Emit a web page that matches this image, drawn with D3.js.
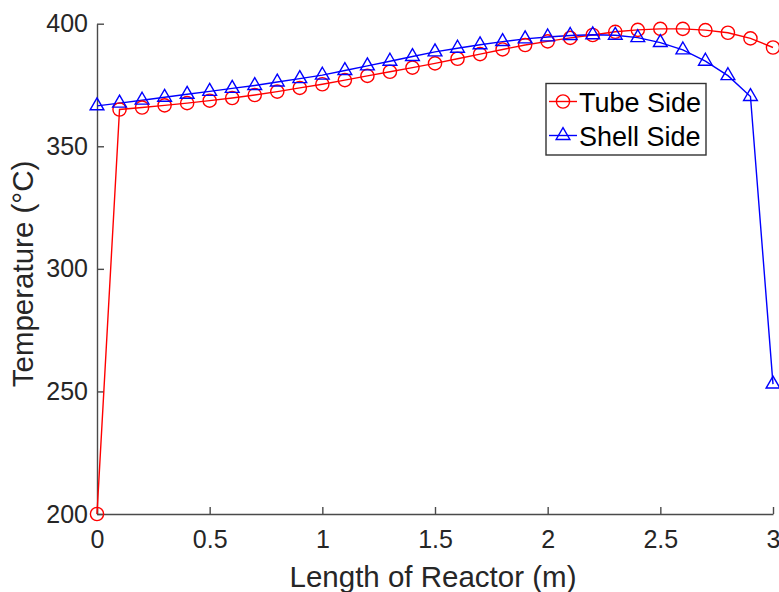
<!DOCTYPE html>
<html>
<head>
<meta charset="utf-8">
<script src="https://cdn.jsdelivr.net/npm/d3@7"></script>
<style>
  body { margin: 0; background: #fff; }
  svg { font-family: "Liberation Sans", Arial, sans-serif; }
</style>
</head>
<body>
<svg width="779" height="592"></svg>
<script>
// reactor length positions (m)
const lengths = [0, 0.1, 0.2, 0.3, 0.4, 0.5, 0.6, 0.7, 0.8, 0.9, 1.0,
  1.1, 1.2, 1.3, 1.4, 1.5, 1.6, 1.7, 1.8, 1.9, 2.0,
  2.1, 2.2, 2.3, 2.4, 2.5, 2.6, 2.7, 2.8, 2.9, 3.0];

// tube side temperature (C)
const tubeSide = [200, 365, 365.8, 366.7, 367.6, 368.6, 369.7, 370.9, 372.3, 373.8, 375.3,
  377, 378.7, 380.4, 382.1, 383.8, 385.7, 387.6, 389.5, 391.3, 392.8,
  394.2, 395.4, 396.7, 397.5, 397.9, 397.9, 397.4, 396.3, 394, 390.3];

// shell side temperature (C)
const shellSide = [366.5, 367.6, 368.8, 370, 371.2, 372.4, 373.6, 374.8, 376.2, 377.6, 379,
  380.9, 382.8, 384.7, 386.6, 388.5, 390, 391.4, 392.7, 393.8, 394.6,
  395.2, 395.5, 395.3, 394.3, 392.3, 389.3, 384.7, 378.8, 370.3, 253];

const xTicks = [0, 0.5, 1, 1.5, 2, 2.5, 3];
const yTicks = [200, 250, 300, 350, 400];
const seriesNames = ['Tube Side', 'Shell Side'];

const svg = d3.select('svg');
const plotLeft = 97, plotRight = 773, plotTop = 23.7, plotBottom = 514;

const x = d3.scaleLinear().domain([0, 3]).range([plotLeft, plotRight]);
const y = d3.scaleLinear().domain([200, 400]).range([plotBottom, plotTop]);

const axisColor = '#4a4a4a';

// axes (MATLAB style, ticks pointing in)
const gx = svg.append('g')
  .attr('transform', 'translate(0,' + plotBottom + ')')
  .call(d3.axisBottom(x).tickValues(xTicks).tickFormat(d3.format('')).tickSizeInner(-7).tickSizeOuter(0).tickPadding(16));

const gy = svg.append('g')
  .attr('transform', 'translate(' + plotLeft + ',0)')
  .call(d3.axisLeft(y).tickValues(yTicks).tickSizeInner(-7).tickSizeOuter(0).tickPadding(9));

[gx, gy].forEach(g => {
  g.select('.domain').attr('stroke', axisColor).attr('stroke-width', 1.4);
  g.selectAll('.tick line').attr('stroke', axisColor).attr('stroke-width', 1.4);
  g.selectAll('.tick text').attr('fill', '#262626').style('font-size', '25px')
    .style('font-family', '"Liberation Sans", Arial, sans-serif');
});

// axis labels
svg.append('text')
  .attr('x', 433).attr('y', 587)
  .attr('text-anchor', 'middle')
  .attr('fill', '#262626')
  .style('font-size', '29.5px')
  .text('Length of Reactor (m)');

svg.append('text')
  .attr('transform', 'translate(33,274) rotate(-90)')
  .attr('text-anchor', 'middle')
  .attr('fill', '#262626')
  .style('font-size', '29.5px')
  .text('Temperature (°C)');

// lines
const tubeData = lengths.map((d, i) => ({x: d, y: tubeSide[i]}));
const shellData = lengths.map((d, i) => ({x: d, y: shellSide[i]}));

const line = d3.line().x(d => x(d.x)).y(d => y(d.y));

svg.append('path').datum(tubeData)
  .attr('fill', 'none').attr('stroke', '#ff0000').attr('stroke-width', 1.4)
  .attr('d', line);

svg.append('path').datum(shellData)
  .attr('fill', 'none').attr('stroke', '#0000ff').attr('stroke-width', 1.4)
  .attr('d', line);

const tri = d3.symbol().type(d3.symbolTriangle).size(82);

svg.selectAll('.tube-marker')
  .data(tubeData)
  .enter()
  .append('circle')
  .attr('cx', d => x(d.x))
  .attr('cy', d => y(d.y))
  .attr('r', 6.6)
  .attr('fill', 'none')
  .attr('stroke', '#ff0000')
  .attr('stroke-width', 1.4);

svg.selectAll('.shell-marker')
  .data(shellData)
  .enter()
  .append('path')
  .attr('d', tri)
  .attr('transform', d => 'translate(' + x(d.x) + ',' + y(d.y) + ')')
  .attr('fill', 'none')
  .attr('stroke', '#0000ff')
  .attr('stroke-width', 1.4);

// legend
const legend = svg.append('g');
legend.append('rect')
  .attr('x', 546).attr('y', 83.5)
  .attr('width', 160).attr('height', 71.5)
  .attr('fill', '#fff')
  .attr('stroke', '#333')
  .attr('stroke-width', 1.4);

const legendColors = ['#ff0000', '#0000ff'];
seriesNames.forEach((name, i) => {
  const ly = 101.5 + i * 34;
  legend.append('line')
    .attr('x1', 549).attr('x2', 577)
    .attr('y1', ly).attr('y2', ly)
    .attr('stroke', legendColors[i]).attr('stroke-width', 1.4);
  if (i === 0) {
    legend.append('circle')
      .attr('cx', 563).attr('cy', ly).attr('r', 6.6)
      .attr('fill', 'none').attr('stroke', legendColors[i]).attr('stroke-width', 1.4);
  } else {
    legend.append('path')
      .attr('d', tri)
      .attr('transform', 'translate(563,' + ly + ')')
      .attr('fill', 'none').attr('stroke', legendColors[i]).attr('stroke-width', 1.4);
  }
  legend.append('text')
    .attr('x', 579).attr('y', ly + 10)
    .attr('fill', '#000')
    .style('font-size', '27px')
    .text(name);
});
</script>
</body>
</html>
